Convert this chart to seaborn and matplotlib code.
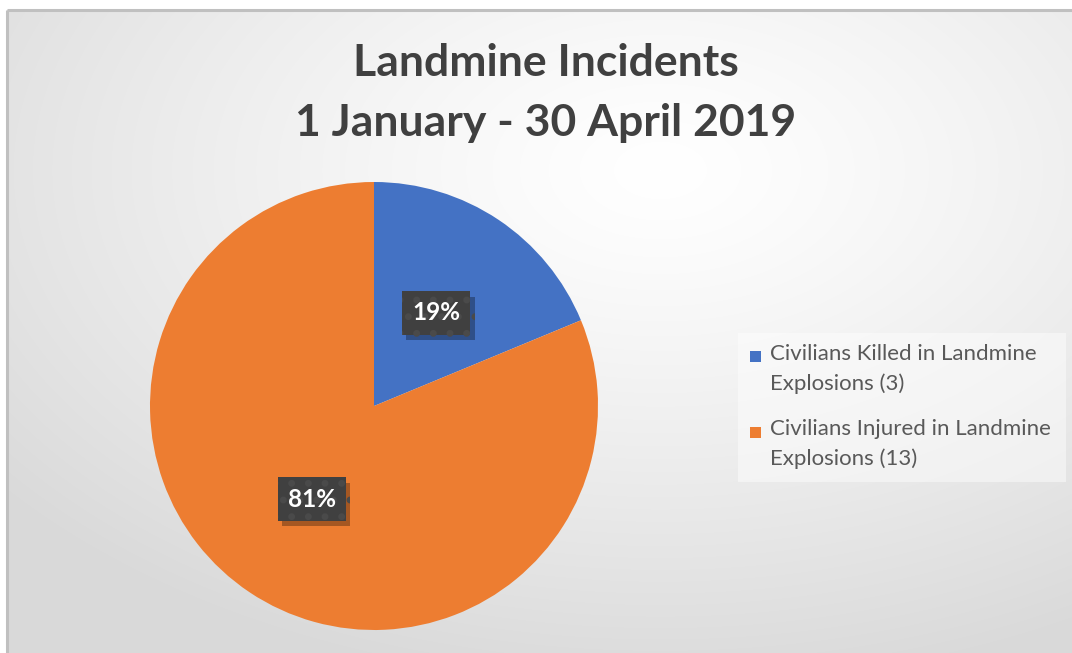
import numpy as np
import matplotlib
matplotlib.use("Agg")
import matplotlib.pyplot as plt
import matplotlib.patheffects as pe
from matplotlib.patches import Patch, Rectangle
from matplotlib.legend_handler import HandlerPatch
import seaborn as sns

# ---- data ----
categories = ["Civilians Killed in Landmine\nExplosions (3)",
              "Civilians Injured in Landmine\nExplosions (13)"]
values = [3, 13]
colors = ["#4472C4", "#ED7D31"]
title_lines = ["Landmine Incidents", "1 January - 30 April 2019"]

sns.set_theme(style="white")
plt.rcParams['font.family'] = ['Lato', 'DejaVu Sans']

W, H = 1072, 653
fig = plt.figure(figsize=(W / 100, H / 100), dpi=100)
fig.patch.set_facecolor("white")

# ---- background gradient (chart area) ----
bg = fig.add_axes([0, 0, 1, 1])
bg.set_xlim(0, W)
bg.set_ylim(H, 0)
bg.axis("off")
yy, xx = np.mgrid[0:H, 0:W]
d = np.sqrt(((xx - 660) / 850.0) ** 2 + ((yy - 170) / 525.0) ** 2)
d = np.clip(d, 0, 1) ** 1.25
g = (255 - 38 * d) / 255.0
img = np.dstack([g, g, g])
x0, y0 = 7, 10
bg.imshow(img[y0:, x0:], extent=(x0, W, H, y0), interpolation="bilinear", zorder=0)
bg.plot([x0, x0], [H, y0], color="#c0c0c0", lw=2.2, zorder=1, solid_capstyle="butt")
bg.plot([x0, W], [y0, y0], color="#c0c0c0", lw=2.2, zorder=1, solid_capstyle="butt")
# legend background panel
bg.add_patch(Rectangle((738, 333), 328, 149, facecolor="white", alpha=0.45,
                       edgecolor="none", zorder=1))

# ---- title ----
for txt, yc in zip(title_lines, [63, 123]):
    fig.text(546 / W, 1 - yc / H, txt, ha="center", va="center",
             fontsize=32, fontweight="bold", color="#404040")

# ---- pie ----
cx, cy, r = 374, 406, 224
ax = fig.add_axes([(cx - r) / W, 1 - (cy + r) / H, 2 * r / W, 2 * r / H])
ax.set_facecolor("none")
wedges, _, autotexts = ax.pie(values, colors=colors, startangle=90, counterclock=False,
                              autopct="%.0f%%", pctdistance=0.5, radius=1,
                              wedgeprops=dict(linewidth=0))
ax.set_xlim(-1, 1)
ax.set_ylim(-1, 1)
ax.set_aspect("auto")
ax.axis("off")

plt.rcParams['hatch.linewidth'] = 2.5
for t in autotexts:
    t.set_color("white")
    t.set_fontsize(17.5)
    t.set_fontweight("bold")
    t.set_bbox(dict(boxstyle="square,pad=0.42", facecolor="#404040",
                    edgecolor="#4a4a4a", linewidth=0, hatch="."))
    bp = t.get_bbox_patch()
    bp.set_path_effects([pe.SimplePatchShadow(offset=(3, -4), shadow_rgbFace="black", alpha=0.3),
                         pe.Normal()])


# ---- legend ----
class TopSquare(HandlerPatch):
    def create_artists(self, legend, orig_handle, xdescent, ydescent,
                       width, height, fontsize, trans):
        s = 0.5 * fontsize
        p = Rectangle((-xdescent, -ydescent + height - s), s, s,
                      facecolor=orig_handle.get_facecolor(), edgecolor="none",
                      transform=trans)
        return [p]


handles = [Patch(facecolor=c, edgecolor="none") for c in colors]
leg = fig.legend(handles, categories, loc="upper left",
                 bbox_to_anchor=(750 / W, 1 - 344 / H),
                 frameon=False, fontsize=16, labelcolor="#595959",
                 handlelength=0.55, handleheight=2.2, handletextpad=0.35,
                 labelspacing=1.15, borderpad=0, borderaxespad=0,
                 handler_map={Patch: TopSquare()})
for t in leg.get_texts():
    t.set_linespacing(1.55)

fig.savefig("out.png", dpi=100)
